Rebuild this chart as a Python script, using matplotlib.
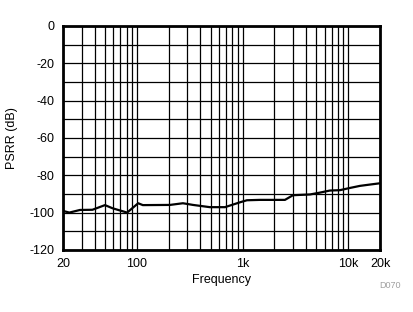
import numpy as np
import matplotlib.pyplot as plt
from matplotlib.ticker import FixedLocator, NullFormatter

plt.rcParams['font.family'] = ['Liberation Sans', 'DejaVu Sans']
plt.rcParams['axes.unicode_minus'] = False

# PSRR vs frequency
freq = [20, 23, 29, 38, 50, 59, 81, 103, 114, 206, 273, 340, 491, 682, 946,
        1100, 1460, 2520, 3000, 4350, 5400, 6700, 8340, 10400, 12900, 16000, 20000]
psrr = [-99.1, -100, -98.6, -98.5, -96, -97.7, -100, -95, -96, -95.9, -95, -95.9,
        -97.1, -97.1, -94.5, -93.4, -93.2, -93.2, -90.7, -90.3, -89.3, -88.2,
        -88, -86.8, -85.7, -85, -84.3]

xticks = [20, 100, 1000, 10000, 20000]
xtick_labels = ['20', '100', '1k', '10k', '20k']
yticks = np.arange(-120, 1, 20)

fig = plt.figure(figsize=(4.14, 3.12), dpi=100)
ax = fig.add_axes([0.152, 0.199, 0.766, 0.718])

ax.plot(freq, psrr, color='black', lw=1.6)

ax.set_xscale('log')
ax.set_xlim(20, 20000)
ax.set_ylim(-120, 0)

minor_x = [m * 10 ** d for d in range(1, 5) for m in range(1, 10) if 20 <= m * 10 ** d <= 20000]
ax.xaxis.set_major_locator(FixedLocator(xticks))
ax.set_xticklabels(xtick_labels)
ax.xaxis.set_minor_locator(FixedLocator(minor_x))
ax.xaxis.set_minor_formatter(NullFormatter())
ax.set_yticks(yticks)
ax.yaxis.set_minor_locator(FixedLocator(np.arange(-110, 0, 20)))

ax.grid(True, which='both', color='black', lw=0.9)
ax.tick_params(which='both', length=0, labelsize=9, pad=6)
for s in ax.spines.values():
    s.set_linewidth(2)

ax.set_xlabel('Frequency', fontsize=9, labelpad=3)
ax.set_ylabel('PSRR (dB)', fontsize=9)
ax.yaxis.set_label_coords(-0.142, 0.5)
fig.text(0.942, 0.077, 'D070', fontsize=6.5, color='#a0a0a0', ha='center')

fig.savefig('out.png', dpi=100)
